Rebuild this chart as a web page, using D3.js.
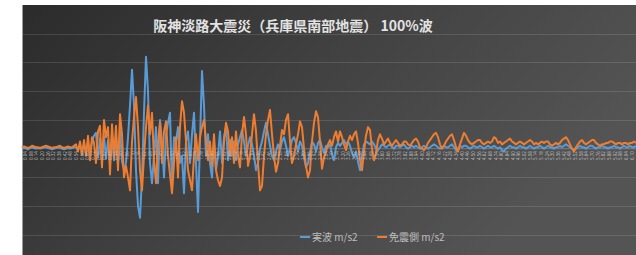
<!DOCTYPE html>
<meta charset="utf-8">
<style>
body { margin: 0; background: #fff; }
svg { display: block; }
.grid line { stroke: rgba(255,255,255,0.12); shape-rendering: crispEdges; }
.x.axis text { font: 4.5px "Noto Sans", sans-serif; fill: #bcbcbc; }
.line { fill: none; stroke-width: 2; stroke-linejoin: round; }
.title { font: bold 14px "Noto Sans CJK JP", sans-serif; fill: #e2e2e2; }
.legend text { font: 10px "Noto Sans CJK JP", sans-serif; fill: #bdbdbd; }
</style>
<body>
<script src="https://cdn.jsdelivr.net/npm/d3@7"></script>
<script>
var title = "阪神淡路大震災（兵庫県南部地震） 100%波";
var seriesNames = ["実波 m/s2", "免震側 m/s2"];
var colors = ["#5b9bd5", "#ed7d31"];
var dt = 0.02; // 秒
var yTicks = [-6, -4, -2, 0, 2, 4, 6, 8];

// 実波 (m/s2)
var jitsuha = [
  0,0.05,0,-0.05,0.05,0.1,0.05,0,0.05,0,0.05,0.1,0.1,0.05,0,-0.05,0,0.05,0.1,0.05,0,-0.05,0,0.05,0,0.05,0.1,
  0.1,-0.1,0.2,-0.2,0.3,-0.3,0.4,-0.4,0.5,0.9,1.1,-0.6,0.7,-0.8,0.9,-0.7,0.6,-0.9,1.0,-0.8,0.9,-1.0,1.2,-0.9,-1.5,-1.0,0.8,
  3.0,5.5,3.0,-1.5,-4.0,-4.8,-2.0,2.5,6.4,4.0,-1.0,-2.4,-0.5,1.5,-2.4,2.0,0.5,-2.0,1.0,1.8,2.5,-2.9,0.8,0.5,1.5,-1.0,-0.5,-3.1,0.5,1.2,-1.0,1.0,2.5,-1.0,-4.4,0.5,5.4,3.0,-0.5,1.0,-1.0,-2.0,0.5,-1.5,-0.5,1.2,-1.0,0.8,1.5,-0.8,0.6,
  -0.5,0.5,-0.8,0.3,0.8,1.3,0.5,-0.5,0.2,0.8,0.3,-0.5,-1.5,-1.0,0.0,0.5,1.2,1.8,1.0,0.2,-0.5,-0.8,-0.2,0.3,-0.1,0.5,0.8,0.2,-0.5,0.0,0.6,0.8,0.4,-0.2,0.5,0.2,-0.6,-1.3,-1.0,-0.3,0.5,0.3,-0.2,0.4,0.6,0.1,-0.3,0.2,0.1,0.3,-0.4,-0.8,0.1,0.4,0.2,
  0.4,0.6,0.3,0.5,0.2,-0.3,-0.6,-0.2,-0.9,-1.5,-0.6,0.3,0.5,0.4,0.3,0.5,0.3,0.0,-0.1,0.1,0.3,0.2,0.1,0.2,0.3,0.1,0.0,0.2,0.2,0.1,0.2,0.3,0.1,0.0,0.1,0.2,0.1,0.2,0.1,0.0,
  0.1,0.2,0.1,0.0,0.1,0.2,0.3,0.2,0.1,0.0,
  0.1,0.2,0.1,0.1,0.2,0.3,0.1,-0.1,0.0,0.2,
  0.1,0.2,0.2,0.1,0.0,0.1,0.2,0.1,0.1,0.2,
  0.1,0.0,0.1,0.2,0.1,0.1,0.2,0.1,0.0,0.1,
  -0.1,-0.2,0.0,0.1,0.2,0.1,0.1,0.0,0.1,0.2,
  0.1,0.1,0.0,0.1,0.2,0.1,0.0,0.1,0.1,0.2,
  0.1,0.0,0.1,0.2,0.1,0.1,0.0,0.1,0.1,0.2,
  0.1,0.2,0.3,0.2,0.1,0.0,-0.1,0.0,0.1,0.2,
  0.1,0.1,0.0,0.1,0.2,0.2,0.1,0.0,0.1,0.1,
  0.2,0.1,0.1,0.0,0.1,0.1,0.2,0.1,0.1,0.0,
  0.1,0.2,0.1,0.1,0.2,0.1,0.1,0.2
];

// 免震側 (m/s2)
var menshin = [
  0.1,0.15,0.1,0.05,0.1,0.2,0.15,0.1,0.1,0.05,0.1,0.15,0.2,0.15,0.1,0.05,0.1,0.1,0.15,0.2,0.1,0.05,0.1,0.15,0.1,0.1,0.2,
  0.3,-0.2,0.5,-0.4,0.6,-0.5,0.9,-0.8,0.8,0.4,-1.0,1.2,1.6,-1.3,2.0,0.8,1.5,-1.8,1.7,-0.6,1.6,-1.5,2.4,1.0,-2.0,-1.2,-2.0,
  -2.9,0.5,2.2,3.6,1.5,-1.5,-2.9,-0.5,1.5,3.0,1.0,2.5,-0.8,-2.4,0.5,1.8,-1.0,1.2,1.9,-0.5,-1.8,-3.1,-1.0,0.8,-2.0,1.5,3.3,2.5,0.5,-1.5,-2.2,-2.9,-0.5,1.0,-0.8,0.8,1.5,2.0,0.6,-0.8,0.5,-1.2,1.0,-1.5,-2.2,-2.6,-2.0,0.5,1.8,1.2,-0.5,
  0.8,-1.0,1.2,-0.5,-1.3,1.0,2.2,1.0,-1.2,-0.5,1.0,2.4,1.2,-1.0,-2.9,-2.6,-0.5,1.0,2.0,2.7,1.0,-0.5,-1.6,-1.0,0.2,1.3,1.0,2.0,2.4,0.5,-1.0,-0.5,0.3,1.0,1.9,1.5,0.0,-1.2,-2.0,-1.5,0.5,1.8,2.6,2.2,0.5,-1.4,-0.6,-0.2,0.3,0.6,0.2,0.8,1.2,0.5,1.2,
  0.8,0.3,-0.1,0.5,0.9,0.6,1.0,1.2,0.4,-0.8,-1.5,-0.2,0.9,1.5,1.3,0.0,-0.8,-0.3,0.6,1.0,0.7,0.3,0.5,0.7,0.4,0.2,0.4,0.6,0.4,0.2,0.3,0.5,0.5,0.3,0.2,0.4,0.6,0.7,0.5,0.1,
  0.0,-0.1,0.1,0.4,0.6,0.8,1.0,1.1,0.8,0.3,
  0.0,0.2,0.5,0.7,0.9,1.0,0.6,0.1,-0.2,0.3,
  0.7,1.1,0.9,0.6,0.4,0.3,0.4,0.5,0.6,0.6,
  0.4,0.3,0.4,0.5,0.4,0.5,0.8,0.7,0.4,0.5,
  0.3,0.4,0.5,0.6,0.7,0.5,0.4,0.3,0.4,0.5,
  0.4,0.3,0.4,0.5,0.6,0.5,0.3,0.4,0.3,0.4,
  0.5,0.4,0.5,0.5,0.3,0.2,0.3,0.4,0.3,0.4,
  0.6,0.7,0.8,0.6,0.3,0.0,-0.2,0.1,0.3,0.5,
  0.6,0.4,0.3,0.4,0.5,0.6,0.6,0.4,0.3,0.2,
  0.3,0.3,0.4,0.4,0.5,0.5,0.4,0.3,0.4,0.4,
  0.3,0.4,0.4,0.3,0.4,0.4,0.5,0.4
];

var W = 636, H = 255;
var plot = {left: 22, right: 636, top: 5, bottom: 255};
var n = Math.max(jitsuha.length, menshin.length);

var svg = d3.select("body").append("svg")
    .attr("width", W)
    .attr("height", H);

var defs = svg.append("defs");
var grad = defs.append("linearGradient")
    .attr("id", "bg")
    .attr("x1", 0).attr("y1", 0).attr("x2", 1).attr("y2", 0.4);
grad.append("stop").attr("offset", "0%").attr("stop-color", "#2b2b2b");
grad.append("stop").attr("offset", "55%").attr("stop-color", "#434343");
grad.append("stop").attr("offset", "100%").attr("stop-color", "#545454");

svg.append("rect")
    .attr("x", plot.left)
    .attr("y", plot.top)
    .attr("width", plot.right - plot.left)
    .attr("height", plot.bottom - plot.top)
    .attr("fill", "url(#bg)");

var x = d3.scaleLinear().domain([0, n - 1]).range([plot.left, plot.right]);
var y = d3.scaleLinear().domain([-7.4, 10]).range([plot.bottom, plot.top]);

// gridlines
svg.append("g")
    .attr("class", "grid")
  .selectAll("line")
    .data(yTicks.filter(function(d) { return d !== 0; }))
  .enter().append("line")
    .attr("x1", plot.left)
    .attr("x2", plot.right)
    .attr("y1", function(d) { return Math.round(y(d)) + 0.5; })
    .attr("y2", function(d) { return Math.round(y(d)) + 0.5; });

// zero axis line
svg.append("line")
    .attr("x1", plot.left).attr("x2", plot.right)
    .attr("y1", y(0)).attr("y2", y(0))
    .attr("stroke", "rgba(255,255,255,0.25)");

var line = d3.line()
    .x(function(d, i) { return x(i); })
    .y(function(d) { return y(d); });

svg.append("path")
    .datum(jitsuha)
    .attr("class", "line")
    .attr("stroke", colors[0])
    .attr("d", line);

svg.append("path")
    .datum(menshin)
    .attr("class", "line")
    .attr("stroke", colors[1])
    .attr("stroke-width", 2.2)
    .attr("d", line);

// category labels (time), rotated and tiny
var tickPos = d3.range(1.5, n - 1, 2.835);
var xAxis = d3.axisBottom(x)
    .tickValues(tickPos)
    .tickSize(0)
    .tickFormat(function(d) { return (Math.round(d) * dt).toFixed(2); });

svg.append("g")
    .attr("class", "x axis")
    .attr("transform", "translate(0," + y(0) + ")")
    .call(xAxis)
    .call(function(g) { g.select(".domain").remove(); })
  .selectAll("text")
    .attr("transform", "rotate(-90)")
    .attr("x", -2.5)
    .attr("y", 0)
    .attr("dy", "0.35em")
    .style("text-anchor", "end");

// left border
svg.append("line")
    .attr("x1", plot.left + 0.5).attr("x2", plot.left + 0.5)
    .attr("y1", plot.top).attr("y2", plot.bottom)
    .attr("stroke", "#9a9a9a");

svg.append("text")
    .attr("class", "title")
    .attr("x", 293)
    .attr("y", 31)
    .attr("text-anchor", "middle")
    .text(title);

var legendX = [300, 377];
var legend = svg.selectAll(".legend")
    .data(seriesNames)
  .enter().append("g")
    .attr("class", "legend")
    .attr("transform", function(d, i) { return "translate(" + legendX[i] + ",237)"; });

legend.append("line")
    .attr("x1", 0).attr("x2", 10)
    .attr("stroke", function(d, i) { return colors[i]; })
    .attr("stroke-width", 2);

legend.append("text")
    .attr("x", 12)
    .attr("dy", "0.35em")
    .text(function(d) { return d; });
</script>
</body>
</html>
